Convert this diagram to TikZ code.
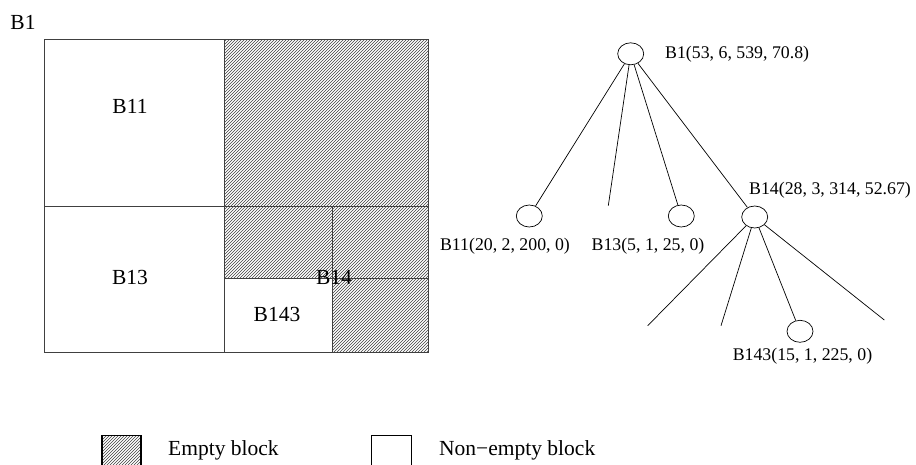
\documentclass[tikz,border=0pt]{standalone}
\usepackage{fontspec}
\setmainfont{Liberation Serif}
\usepackage{tikz}
\usetikzlibrary{positioning,shapes.geometric,patterns}
\definecolor{gridgray}{gray}{0.25}
\definecolor{hatchgray}{gray}{0.25}
\tikzset{
  gridline/.style={draw=gridgray, line width=0.9pt},
  emptyblock/.style={pattern=north east lines, pattern color=hatchgray},
  blocklabel/.style={font=\fontsize{21.5}{24}\selectfont, inner sep=0pt},
  treenode/.style={draw, ellipse, line width=0.7pt, minimum width=26pt, minimum height=22pt, inner sep=0pt},
  treeedge/.style={line width=0.7pt},
  treelabel/.style={font=\fontsize{17.8}{20}\selectfont, inner sep=0pt}
}

\begin{document}
\begin{tikzpicture}[x=1pt, y=-1pt]
  \clip (0,0) rectangle (916,464);

  % block partition of B1
  \fill[emptyblock] (224,39) rectangle (428,206);
  \fill[emptyblock] (224,206) rectangle (332,278);
  \fill[emptyblock] (332,206) rectangle (428,352);
  \draw[gridline] (44,39) rectangle (428,352);
  \draw[gridline] (224,39) -- (224,352);
  \draw[gridline] (44,206) -- (428,206);
  \draw[gridline] (332,206) -- (332,352);
  \draw[gridline] (224,278) -- (428,278);

  \node[blocklabel] (lb1) at (23,22) {B1};
  \node[blocklabel] (lb11) at (130,106) {B11};
  \node[blocklabel] (lb13) at (130,277) {B13};
  \node[blocklabel] (lb14) at (334,277) {B14};
  \node[blocklabel] (lb143) at (277,314) {B143};

  % tree of non-empty blocks
  \node[treenode] (root) at (630.7,53.8) {};
  \node[treenode] (b11) at (529.3,216) {};
  \node[treenode] (b13) at (681.3,216) {};
  \node[treenode] (b14) at (754.7,217) {};
  \node[treenode] (b143) at (800,331.3) {};
  \coordinate (b12) at (608.3,205.7);
  \coordinate (b141) at (647.7,325.7);
  \coordinate (b142) at (721,325.7);
  \coordinate (b144) at (884.3,320);

  \draw[treeedge] (root) -- (b11);
  \draw[treeedge] (root) -- (b12);
  \draw[treeedge] (root) -- (b13);
  \draw[treeedge] (root) -- (b14);
  \draw[treeedge] (b14) -- (b141);
  \draw[treeedge] (b14) -- (b142);
  \draw[treeedge] (b14) -- (b143);
  \draw[treeedge] (b14) -- (b144);

  \node[treelabel, anchor=west] (troot) at (665,54.5) {B1(53, 6, 539, 70.8)};
  \node[treelabel] (tb11) at (505,246.5) {B11(20, 2, 200, 0)};
  \node[treelabel] (tb13) at (648,246.5) {B13(5, 1, 25, 0)};
  \node[treelabel, anchor=west] (tb14) at (749,190) {B14(28, 3, 314, 52.67)};
  \node[treelabel] (tb143) at (802.5,356.7) {B143(15, 1, 225, 0)};

  % legend
  \draw[emptyblock] (101.7,435) rectangle (140.7,475);
  \draw[line width=0.8pt] (101.7,435) rectangle (140.7,475);
  \node[blocklabel, anchor=west] (lempty) at (168,450) {Empty block};
  \draw[line width=0.8pt] (371.7,435) rectangle (411,475);
  \node[blocklabel, anchor=west] (lfull) at (439,450) {Non−empty block};
\end{tikzpicture}
\end{document}
